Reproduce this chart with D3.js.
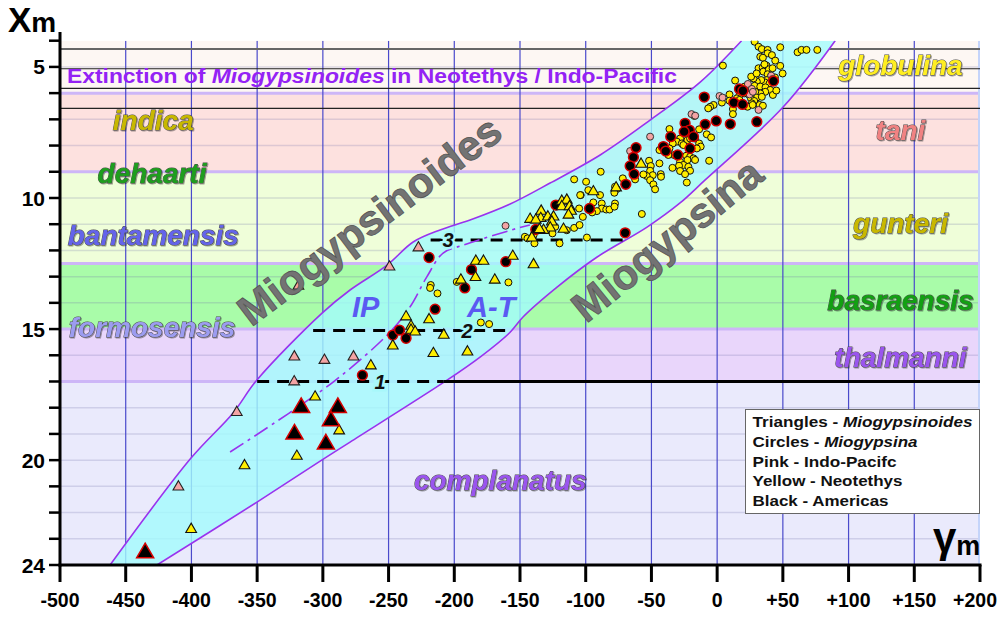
<!DOCTYPE html>
<html><head><meta charset="utf-8">
<script src="https://cdn.jsdelivr.net/npm/d3@7"></script>
<style>
body{margin:0;background:#fff;}
svg{display:block;font-family:Arial,"Liberation Sans",sans-serif;}
</style></head><body>
<svg id="chart" width="1000" height="618"></svg>
<script>
// ---------------- DATA ----------------
const xTicks = [-500,-450,-400,-350,-300,-250,-200,-150,-100,-50,0,50,100,150,200];
const xTickLabels = ["-500","-450","-400","-350","-300","-250","-200","-150","-100","-50","0","+50","+100","+150","+200"];
const yMinorTicks = [4,5,6,7,8,9,10,11,12,13,14,15,16,17,18,19,20,21,22,23,24];
const yTickLabels = [5,10,15,20,24];

const zoneBounds = [4,6,9,12.5,15,17,24];
const zoneColors = ["#fdf7f3","#fde1df","#effed9","#a9fca9","#e9d6fb","#eaeafc"];
const zoneBoundaryLevels = [6,9,12.5,15,17];
const markerLevels = [4.32,5.07,5.82,6.58];

const zoneLabels = ["globulina","tani","indica","dehaarti","gunteri","bantamensis","basraensis","formosensis","thalmanni","complanatus"];
const zoneLabelColors = ["#ffee22","#f08282","#c8b800","#1e9e1e","#c8b800","#6464ea","#12a012","#9c9cf0","#9a55ee","#9a55ee"];

const upperBoundary = [[-461.9,24],[-400.3,19.92],[-368.3,18.2],[-350.3,16.95],[-300.6,14.39],[-279.3,13.51],[-251.1,12.56],[-231.3,11.68],[-210.8,11.22],[-188,10.84],[-157.5,10.23],[-127.1,9.43],[-89,8.36],[-51,7.03],[-12.9,5.58],[18.6,4]];
const lowerBoundary = [[-426.2,24],[-350.1,21.6],[-300.6,19.99],[-279.3,19.31],[-205.5,16.95],[-180.4,16.07],[-157.5,15.12],[-147.7,14.54],[-121.8,13.4],[-91.3,12.25],[-53.3,11.11],[-28.2,10.19],[-9.1,9.31],[50.2,6.53],[89.8,4]];
const ipAtBoundary = [[-370.6,19.69],[-292.2,17.02],[-248.8,15.11],[-233.6,14.15],[-220.9,13.01],[-208.5,12.1],[-193.3,11.8],[-152.4,11.16],[-142.5,11.03]];

const levelNames = ["1","2","3"];
const levelValues = [17,15.05,11.6];
const levelFrom = [-350,-307.4,-218];
const levelTo = [-208,-159.8,-70];
const levelLabelX = [-256.5,-190.3,-204.7];

const yellowCircles = [[28.5,4.04],[31.5,4.23],[34,4.32],[38.4,4.35],[38.4,4.48],[41.7,4.55],[44.2,4.76],[48,4.25],[32.8,4.61],[34.8,4.65],[61.2,4.44],[64.2,4.35],[68,4.35],[76.2,4.35],[4.4,4.95],[31.5,5.05],[34.6,5.03],[37.6,4.95],[35.1,5.18],[39.4,5.09],[42.2,5.05],[48,4.96],[49.8,5.25],[38.4,5.28],[40.9,5.36],[37.9,5.5],[36.3,5.59],[39.9,5.63],[33.5,5.5],[30.2,5.56],[27.7,5.44],[25.9,5.37],[13.7,5.52],[20.9,5.75],[23.9,5.75],[28.5,5.72],[32.8,5.75],[36.8,5.78],[40.4,5.88],[36.6,5.95],[32.8,6.01],[29,5.95],[23.9,6.05],[20.6,6.01],[17,6.07],[15,6.2],[30.2,6.17],[34,6.14],[25.7,6.2],[28.2,6.3],[26.4,6.39],[23.1,6.52],[32.3,6.45],[34.8,6.48],[9.4,6.05],[9.4,6.29],[3.6,6.36],[-2.7,6.45],[-5.3,6.52],[-6.8,6.58],[12,6.61],[12,6.8],[42.4,6.07],[17,6.26],[36,4.9],[44,5.4],[30,5.25],[45,5.9],[27,6.45],
[-13.7,7.38],[-7.9,7.57],[-17.3,6.87],
[-36.3,7.37],[-4.6,7.69],[-24.4,7.5],[-28.2,7.73],[-30.7,7.85],[-26.9,7.92],[-22.6,7.79],[-20.6,7.73],[-16.8,7.73],[-13.7,7.92],[-12.5,8.04],[-15.5,8.11],[-25.7,7.98],[-33.8,7.92],[-36.3,8.11],[-41.4,8.13],[-43.9,8.17],[-32.8,8.36],[-37.1,8.36],[-23.6,8.39],[-20.6,8.43],[-18,8.49],[-16.8,8.55],[-22.6,8.55],[-28.2,8.62],[-25.7,8.74],[-29,8.77],[-21.9,8.81],[-20.6,8.96],[-28.2,8.97],[-24.4,9.09],[-23.1,9.41],[-34,8.85],[-6.1,8.58],[-43.9,8.68],[-51.8,8.58],[-50.5,8.78],[-51,8.96],[-49,9.13],[-53.6,9.16],[-51,9.32],[-48.5,9.48],[-47.2,9.67],[-42.9,9.09],[-42.7,9.19],[-56.1,9.1],[-62.4,9.29],[-71.8,9.25],[-77.7,9.57],[-76.4,9.66],[-78.2,9.8],[-88.6,9.0],[-99.7,9.38],[-98,9.7],[-103.8,9.89],[-89.1,9.89],[-94.2,10.17],[-87.8,10.21],[-77.7,10.21],
[-108.8,9.29],[-104.2,9.89],[-87.7,10.4],[-84.4,10.44],[-81.9,10.44],[-78.1,10.33],[-91.5,10.5],[-95.1,10.55],[-105,10.4],[-102.2,10.72],[-108.8,11.14],[-104.7,11.03],[-99.1,11.51],[-119.9,11.73],[-139,11.73],[-146.3,11.48],[-144.3,11.54],[-139.7,11.42],[-57.3,10.61],[-125.3,11.35],[-123.2,11.1],[-114.4,11.23],
[-198.1,13.2],[-217.9,13.32],[-218.4,13.43],[-212.8,13.64],[-158.8,13.22],[-179.8,14.75],[-173.5,14.81]];
const pinkCircles = [[1.8,6.11],[4.1,6.17],[23.4,5.65],[26.4,5.84],[24.7,6.05],[27.2,5.95],[41.1,5.33],[42.2,5.46],[31.5,6.64],[-19.5,6.8],[-16.7,6.86],[-51,7.66],[-66.2,8.21],[-161,11.06]];
const blackCircles = [[17,5.84],[19.6,5.91],[-9.8,6.15],[12.7,6.36],[19.3,6.43],[-9.1,7.19],[-0.7,7.06],[10,7.18],[30.2,7.09],[42.9,5.54],[-24.4,7.15],[-21.1,7.41],[-25.1,7.47],[-18,7.66],[-35.3,7.66],[-20.6,8.11],[-30,8.36],[-40.9,8.04],[-39.1,8.21],[-61.7,8.08],[-63.7,8.45],[-66.2,8.78],[-63.2,9.09],[-69.5,9.48],[-122.7,10.27],[-97.1,10.4],[-138,11.2],[-70,11.33],[-219.2,12.27],[-160.8,12.43],[-186.9,12.73],[-192,13.43],[-214.6,14.24],[-246.8,15.23],[-241.7,15.04],[-236.7,15.35],[-269.9,16.76]];
const yellowTriangles = [[-57.9,8.71],[-94.2,9.76],[-76.9,9.61],[-118.2,10.12],[-114.4,10.08],[-118.2,10.33],[-112.3,10.33],[-111.1,10.5],[-113.1,10.65],[-133.9,10.5],[-134.2,10.78],[-142.3,10.81],[-138,10.84],[-128.8,10.72],[-124.5,10.72],[-125.8,10.91],[-127,11.14],[-132.1,11.23],[-135.2,11.2],[-116.9,11.19],[-141,11.52],[-155.5,12.22],[-139.7,12.54],[-183.6,12.41],[-177.8,12.41],[-195,13.13],[-183.9,13.03],[-169.2,13.13],[-236.7,14.53],[-219.2,14.64],[-232.9,14.89],[-232.9,15.04],[-229.8,15.11],[-208,15.23],[-246.8,15.64],[-215.9,15.93],[-190,15.87],[-263.5,16.4],[-305.9,17.59],[-287.6,18.88],[-319.8,19.85],[-359.6,20.21],[-400.2,22.64]];
const pinkTriangles = [[-227.3,11.9],[-249.3,12.63],[-276.7,16.06],[-321.7,16.06],[-298.8,16.19],[-318.6,13.36],[-321.8,17.01],[-365.5,18.18],[-409.9,21.02]];
const blackTriangles = [[-316.5,18.0],[-288.6,18.0],[-293.9,18.5],[-321.6,19.01],[-297.7,19.39],[-435.2,23.54]];

const legendLines = [["Triangles - ","Miogypsinoides"],["Circles - ","Miogypsina"],["Pink - Indo-Pacifc",""],["Yellow - Neotethys",""],["Black - Americas",""]];

// ---------------- LAYOUT ----------------
const svg = d3.select("#chart");
const x = d3.scaleLinear().domain([-500,200]).range([60,980]);
const y = d3.scaleLinear().domain([4,24]).range([40.7,565]);
const X0 = x(-500), X1 = x(200), Y0 = y(4), Y1 = y(24);

const defs = svg.append("defs");
defs.append("clipPath").attr("id","plot").append("rect")
  .attr("x",X0).attr("y",Y0).attr("width",X1-X0).attr("height",Y1-Y0);

const lineGen = d3.line().x(d=>x(d[0])).y(d=>y(d[1])).curve(d3.curveCatmullRom.alpha(0.5));
const upPath = lineGen(upperBoundary);
const lowPath = lineGen(lowerBoundary.slice().reverse());
const bandPath = upPath + "L" + lowPath.slice(1) + "Z";

const mask = defs.append("mask").attr("id","outsideBand");
mask.append("rect").attr("x",0).attr("y",0).attr("width",1000).attr("height",618).attr("fill","#fff");
mask.append("path").attr("d",bandPath).attr("fill","#000");

const g = svg.append("g").attr("clip-path","url(#plot)");

g.selectAll("rect.zone").data(zoneColors).join("rect").attr("class","zone")
  .attr("x",X0).attr("width",X1-X0)
  .attr("y",(d,i)=>y(zoneBounds[i])).attr("height",(d,i)=>y(zoneBounds[i+1])-y(zoneBounds[i]))
  .attr("fill",d=>d);

g.selectAll("line.hg").data(yMinorTicks.slice(1,-1)).join("line").attr("class","hg")
  .attr("x1",X0).attr("x2",X1).attr("y1",d=>y(d)).attr("y2",d=>y(d))
  .attr("stroke","rgba(110,110,170,0.22)").attr("stroke-width",1.5);

g.selectAll("line.zb").data(zoneBoundaryLevels).join("line").attr("class","zb")
  .attr("x1",X0).attr("x2",X1).attr("y1",d=>y(d)).attr("y2",d=>y(d))
  .attr("stroke","#cdb6f7").attr("stroke-width",3);

g.selectAll("line.vg").data(xTicks.slice(1,-1)).join("line").attr("class","vg")
  .attr("x1",d=>x(d)).attr("x2",d=>x(d)).attr("y1",Y0).attr("y2",Y1)
  .attr("stroke","#4a4acb").attr("stroke-width",1.2);
g.append("line").attr("x1",X1-1).attr("x2",X1-1).attr("y1",Y0).attr("y2",Y1)
  .attr("stroke","#c4d4fa").attr("stroke-width",2);

const ml = g.append("g").attr("mask","url(#outsideBand)");
ml.selectAll("line").data(markerLevels).join("line")
  .attr("x1",X0).attr("x2",X1).attr("y1",d=>y(d)).attr("y2",d=>y(d))
  .attr("stroke",(d,i)=>i===0?"#666":"#222").attr("stroke-width",(d,i)=>i===0?2:1.2);

g.append("path").attr("d",bandPath).attr("fill","#a2fbfc").attr("opacity",0.8);
g.append("path").attr("d",upPath).attr("fill","none").attr("stroke","#9933ee").attr("stroke-width",1.6);
g.append("path").attr("d",lineGen(lowerBoundary)).attr("fill","none").attr("stroke","#9933ee").attr("stroke-width",1.6);

g.append("line").attr("x1",x(levelTo[0])).attr("x2",X1).attr("y1",y(levelValues[0])).attr("y2",y(levelValues[0]))
  .attr("stroke","#000").attr("stroke-width",3);

levelNames.forEach((n,i)=>{
  g.append("line").attr("x1",x(levelFrom[i])).attr("x2",x(levelTo[i]))
    .attr("y1",y(levelValues[i])).attr("y2",y(levelValues[i]))
    .attr("stroke","#000").attr("stroke-width",3).attr("stroke-dasharray","12,8");
});

g.append("path").attr("d",d3.line().x(d=>x(d[0])).y(d=>y(d[1])).curve(d3.curveCatmullRom)(ipAtBoundary))
  .attr("fill","none").attr("stroke","#9933ee").attr("stroke-width",1.6).attr("stroke-dasharray","16,5,3,5");

levelNames.forEach((n,i)=>{
  g.append("text").attr("x",x(levelLabelX[i])).attr("y",y(levelValues[i])).attr("dy","0.36em")
    .attr("text-anchor","middle").attr("font-size",20).attr("font-weight","bold").attr("font-style","italic")
    .attr("fill","#111").attr("stroke","#a8f8fb").attr("stroke-width",5).attr("paint-order","stroke").text(n);
});

const pts = g.append("g");
function circles(data, r, fill, stroke, sw){
  pts.append("g").selectAll("circle").data(data).join("circle")
    .attr("cx",d=>x(d[0])).attr("cy",d=>y(d[1])).attr("r",r)
    .attr("fill",fill).attr("stroke",stroke).attr("stroke-width",sw);
}
function triangles(data, size, fill, stroke, sw){
  pts.append("g").selectAll("path").data(data).join("path")
    .attr("d",d3.symbol().type(d3.symbolTriangle).size(size))
    .attr("transform",d=>`translate(${x(d[0])},${y(d[1])})`)
    .attr("fill",fill).attr("stroke",stroke).attr("stroke-width",sw);
}
circles(yellowCircles,3.5,"#ffee00","#111",1);
circles(pinkCircles,3.5,"#f4a4a4","#333",1);
circles(blackCircles,4.9,"#000","#d40000",1.5);
triangles(yellowTriangles,50,"#ffee00","#111",1.1);
triangles(pinkTriangles,50,"#f4a4a4","#222",1.1);
triangles(blackTriangles,125,"#000","#d40000",1.5);

const ext = g.append("text").attr("x",x(-494.7)).attr("y",y(5.63))
  .attr("font-size",20).attr("font-weight","bold").attr("fill","#9422f5")
  .attr("textLength",610).attr("lengthAdjust","spacingAndGlyphs");
ext.append("tspan").text("Extinction of ");
ext.append("tspan").attr("font-style","italic").text("Miogypsinoides");
ext.append("tspan").text(" in Neotethys / Indo-Pacific");

const zlPos = [[139.5,5.31],[139.5,7.8],[-429,7.41],[-430,9.43],[139.5,11.34],[-429,11.8],[139.5,14.28],[-430,15.3],[139.5,16.44],[-165,21.15]];
g.selectAll("text.zl").data(zoneLabels).join("text").attr("class","zl")
  .attr("x",(d,i)=>x(zlPos[i][0])).attr("y",(d,i)=>y(zlPos[i][1]))
  .attr("text-anchor","middle").attr("font-size",28).attr("font-weight","bold").attr("font-style","italic")
  .attr("fill",(d,i)=>zoneLabelColors[i]).attr("stroke","#4a4a4a").attr("stroke-width",0.9)
  .attr("paint-order","stroke")
  .style("filter","drop-shadow(1px 1px 0.6px rgba(0,0,0,0.35))")
  .text(d=>d);

function bigLabel(txt, cx, cy, ang){
  g.append("text").attr("transform",`translate(${x(cx)},${y(cy)}) rotate(${ang})`)
    .attr("text-anchor","middle").attr("font-size",42).attr("font-weight","bold")
    .attr("fill","#737373").attr("stroke","#555").attr("stroke-width",0.8).text(txt);
}
bigLabel("Miogypsinoides",-258,11.3,-37);
bigLabel("Miogypsina",-31.2,12.03,-39);

[["IP",-277.8],["A-T",-190.3]].forEach(d=>{
  g.append("text").attr("x",x(d[1])).attr("y",y(14.55)).attr("font-size",29)
    .attr("font-weight","bold").attr("font-style","italic").attr("fill","#5a5af2").text(d[0]);
});

// legend
const legendWidths = [220,165,144,150,136];
const lg = svg.append("g");
lg.append("rect").attr("x",745.5).attr("y",409.5).attr("width",234).attr("height",104)
  .attr("fill","#fff").attr("stroke","#666").attr("stroke-width",1);
legendLines.forEach((l,i)=>{
  const t = lg.append("text").attr("x",752.5).attr("y",427.3+i*19.7).attr("font-size",15.5)
    .attr("font-weight","bold").attr("fill","#111")
    .attr("textLength",legendWidths[i]).attr("lengthAdjust","spacingAndGlyphs");
  t.append("tspan").text(l[0]);
  if(l[1]) t.append("tspan").attr("font-style","italic").text(l[1]);
});

// axes
const ax = svg.append("g");
ax.append("line").attr("x1",X0).attr("x2",X0).attr("y1",32).attr("y2",Y1+1.5).attr("stroke","#000").attr("stroke-width",3);
ax.append("line").attr("x1",X0-1.5).attr("x2",X1+1.5).attr("y1",Y1).attr("y2",Y1).attr("stroke","#000").attr("stroke-width",3);
ax.selectAll("line.xt").data(xTicks).join("line").attr("class","xt")
  .attr("x1",d=>x(d)).attr("x2",d=>x(d)).attr("y1",Y1).attr("y2",Y1+17)
  .attr("stroke","#000").attr("stroke-width",3);
const lastTick = xTicks[xTicks.length-1];
ax.selectAll("text.xl").data(xTicks).join("text").attr("class","xl")
  .attr("x",d=>d===lastTick?997:x(d)).attr("y",607)
  .attr("text-anchor",d=>d===lastTick?"end":"middle")
  .attr("font-size",19.5).attr("font-weight","bold").attr("fill","#000")
  .text((d,i)=>xTickLabels[i]);
ax.selectAll("line.yt").data(yMinorTicks).join("line").attr("class","yt")
  .attr("x1",X0-11).attr("x2",X0).attr("y1",d=>y(d)).attr("y2",d=>y(d))
  .attr("stroke","#000").attr("stroke-width",2.5);
ax.selectAll("text.yl").data(yTickLabels).join("text").attr("class","yl")
  .attr("x",45).attr("y",d=>y(d)).attr("dy","0.36em").attr("text-anchor","end")
  .attr("font-size",21).attr("font-weight","bold").attr("fill","#000").text(d=>d);

const xt = svg.append("text").attr("x",8).attr("y",32).attr("font-weight","bold").attr("fill","#000");
xt.append("tspan").attr("font-size",35).text("X");
xt.append("tspan").attr("font-size",28).text("m");
const gt = svg.append("text").attr("x",933).attr("y",552).attr("fill","#000");
gt.append("tspan").attr("font-size",42).attr("font-weight","bold").text("γ");
gt.append("tspan").attr("font-size",27).attr("font-weight","bold").attr("dy",3).text("m");
</script>
</body></html>
